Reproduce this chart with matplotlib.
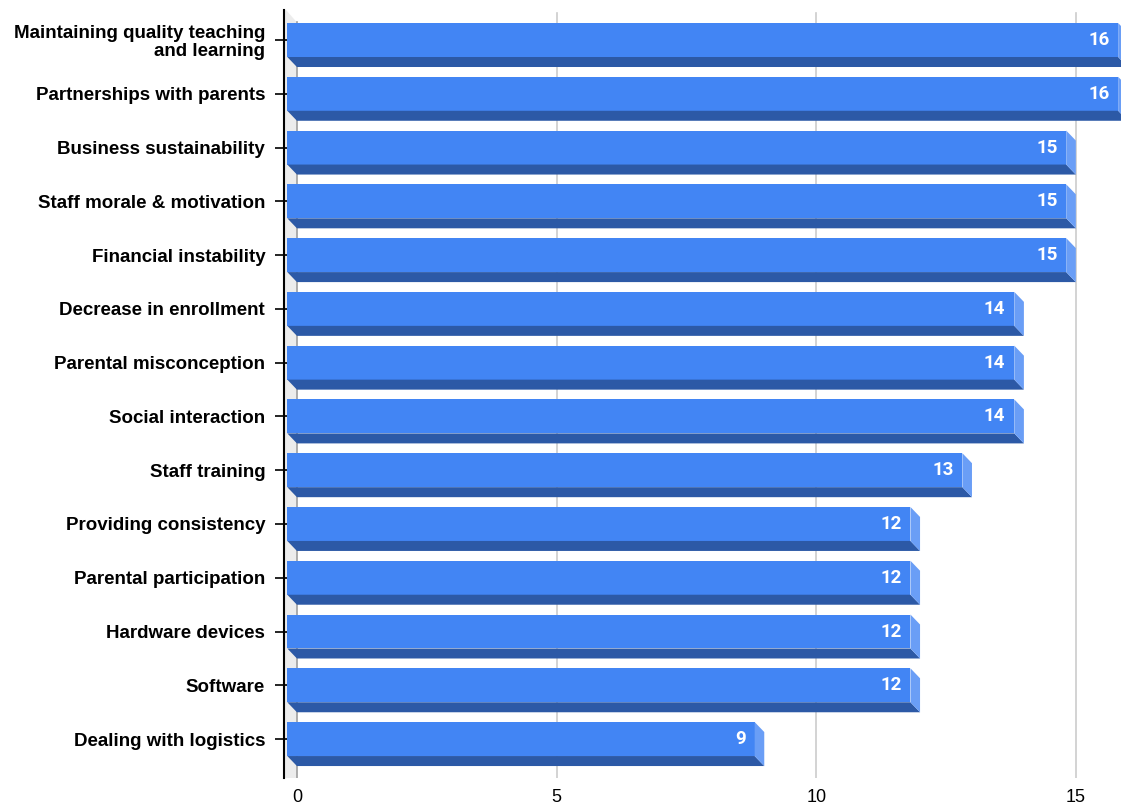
import numpy as np
import matplotlib.pyplot as plt
from matplotlib.patches import Polygon

categories = [
    "Maintaining quality teaching\nand learning",
    "Partnerships with parents",
    "Business sustainability",
    "Staff morale & motivation",
    "Financial instability",
    "Decrease in enrollment",
    "Parental misconception",
    "Social interaction",
    "Staff training",
    "Providing consistency",
    "Parental participation",
    "Hardware devices",
    "Software",
    "Dealing with logistics",
]
values = [16, 16, 15, 15, 15, 14, 14, 14, 13, 12, 12, 12, 12, 9]
x_ticks = [0, 5, 10, 15]

FRONT = "#4285f4"
BOTTOM = "#2c59a6"
SIDE = "#6a9ef6"
WALL = "#ececec"

# pseudo-3D depth of the bars, in data units
DX = 0.185
DY = 0.186
BAR_H = 0.632


def draw_bars(ax, values):
    y = np.arange(len(values))
    ax.barh(y, values, left=-DX, height=BAR_H, color=FRONT, zorder=3)
    for yi, v in zip(y, values):
        top = yi - BAR_H / 2
        bot = yi + BAR_H / 2
        under = Polygon(
            [(-DX, bot), (v - DX, bot), (v, bot + DY), (0, bot + DY)],
            closed=True, facecolor=BOTTOM, edgecolor="none", zorder=3,
        )
        side = Polygon(
            [(v - DX, top), (v, top + DY), (v, bot + DY), (v - DX, bot)],
            closed=True, facecolor=SIDE, edgecolor="none", zorder=3,
        )
        ax.add_patch(under)
        ax.add_patch(side)
        ax.text(v - DX - 0.17, yi, str(v), ha="right", va="center",
                color="white", fontsize=13.5, fontweight="bold",
                family="Roboto", zorder=4)


def draw_wall(ax, x0, y_top, y_bot):
    wall = Polygon(
        [(x0, y_top), (x0 + 0.04, y_top), (0, y_top + 0.23), (0, y_bot), (x0, y_bot)],
        closed=True, facecolor=WALL, edgecolor="none", zorder=1,
    )
    ax.add_patch(wall)
    ax.plot([0, 0], [y_top + 0.23, y_bot], color="#9e9e9e", lw=1.2, zorder=2)


def main():
    plt.rcParams["font.family"] = ["Liberation Sans", "DejaVu Sans"]
    fig = plt.figure(figsize=(11.21, 8.07), dpi=100)
    ax = fig.add_axes([0.2533, 0.0359, 0.7467, 0.9517])

    x_lim = (-0.25, 15.87)
    y_lim = (13.725, -0.558)
    ax.set_xlim(*x_lim)
    ax.set_ylim(*y_lim)

    draw_wall(ax, x_lim[0], y_lim[1], y_lim[0])
    for t in x_ticks[1:]:
        ax.plot([t, t], [y_lim[1] + 0.05, y_lim[0]], color="#cccccc", lw=1.2, zorder=1)

    draw_bars(ax, values)

    ax.set_yticks(np.arange(len(categories)))
    ax.set_yticklabels(categories, fontsize=13.5, fontweight="bold", linespacing=1.05)
    ax.set_xticks(x_ticks)
    ax.set_xticklabels([str(t) for t in x_ticks], fontsize=13)

    ax.tick_params(axis="y", direction="inout", length=13, width=1.2, pad=7)
    ax.tick_params(axis="x", length=0, pad=8)

    for side in ["top", "right", "bottom"]:
        ax.spines[side].set_visible(False)
    ax.spines["left"].set_linewidth(1.5)
    ax.spines["left"].set_zorder(5)

    fig.savefig("out.png", dpi=100)


if __name__ == "__main__":
    main()
